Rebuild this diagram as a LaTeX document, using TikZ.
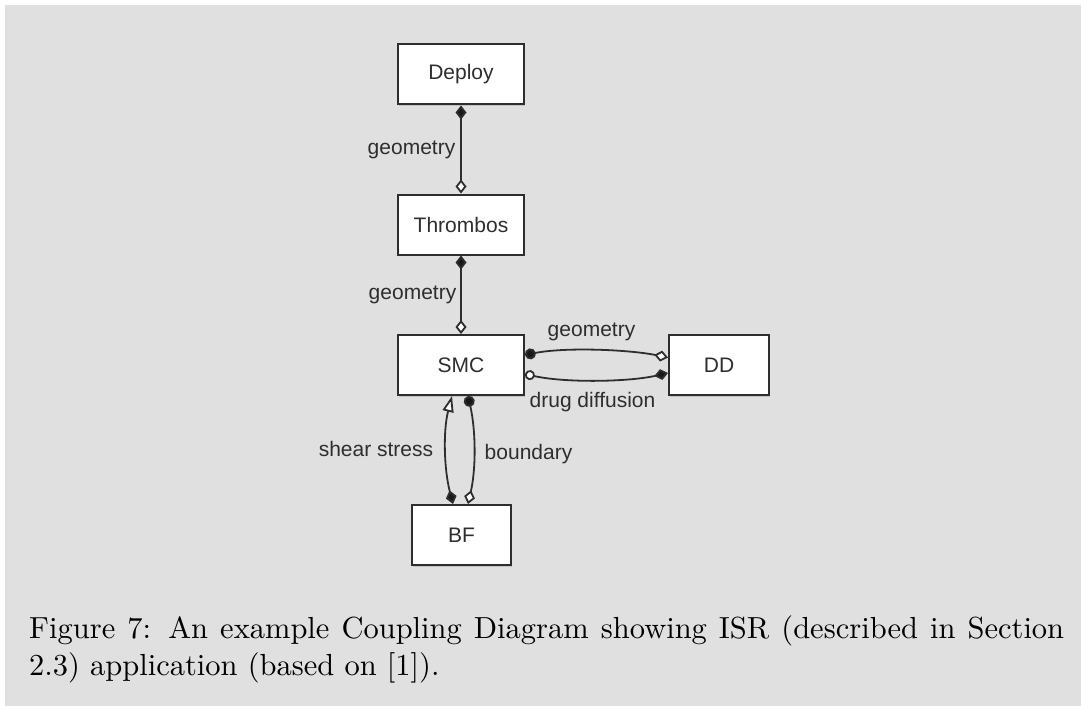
\documentclass[tikz,border=0pt]{standalone}
\usepackage{fontspec}
\newfontfamily\diagfont{Liberation Sans}
\newfontfamily\capfont{lmroman10-regular}[Extension=.otf]
\usetikzlibrary{arrows.meta,calc,shadows}
\definecolor{panel}{HTML}{E0E0E0}
\definecolor{ink}{HTML}{2E2E2E}
\tikzset{
  fdia/.tip={Diamond[length=14pt,width=11pt,fill=black!90]},
  odia/.tip={Diamond[length=14pt,width=11pt,fill=white]},
  fdot/.tip={Circle[length=11pt,fill=black!90]},
  odot/.tip={Circle[length=10pt,fill=white]},
  otri/.tip={Triangle[length=16pt,width=11pt,fill=white]},
}
\begin{document}
\begin{tikzpicture}[x=1pt,y=-1pt,
  box/.style={draw=ink, line width=2pt, fill=white, minimum height=60pt,
    inner sep=0pt, text=ink, font=\diagfont\fontsize{21}{25}\selectfont,
    drop shadow={shadow xshift=1.2pt, shadow yshift=-1.8pt, opacity=0.3}},
  lbl/.style={inner sep=0pt, anchor=base, text=ink,
    font=\diagfont\fontsize{21}{25}\selectfont},
  link/.style={draw=ink, line width=1.8pt},
  captext/.style={inner sep=0pt, anchor=base west, text=black,
    font=\capfont\fontsize{30.5}{36.6}\selectfont}]
  % page and grey panel
  \fill[white] (0,0) rectangle (1081,706);
  \fill[panel] (5,5) rectangle (1081,706);
  \useasboundingbox (0,0) rectangle (1081,706);

  % submodels
  \node[box, minimum width=126pt] (Deploy)   at (461,74.5)  {Deploy};
  \node[box, minimum width=126pt] (Thrombos) at (461,224.5) {Thrombos};
  \node[box, minimum width=126pt] (SMC)      at (461,365)   {SMC};
  \node[box, minimum width=100pt] (DD)       at (719,365)   {DD};
  \node[box, minimum width=99pt]  (BF)       at (461.5,535) {BF};

  % couplings
  \draw[link, {fdia}-{odia}] (Deploy) -- (Thrombos);
  \draw[link, {fdia}-{odia}] (Thrombos) -- (SMC);
  \draw[link, {fdot}-{odia}] ($(SMC.east)+(0,-10)$)
    .. controls +(40,-8) and +(-40,-8) .. ($(DD.west)+(0,-7.5)$);
  \draw[link, {odot}-{fdia}] ($(SMC.east)+(0,9)$)
    .. controls +(40,9) and +(-40,9) .. ($(DD.west)+(0,8)$);
  \draw[link, {fdia}-{otri}] ($(BF.north)+(-8.5,0)$)
    .. controls +(-9,-35) and +(-9,35) .. ($(SMC.south)+(-9,0)$);
  \draw[link, {fdot}-{odia}] ($(SMC.south)+(7,0)$)
    .. controls +(8,35) and +(8,-35) .. ($(BF.north)+(6.5,0)$);

  % coupling labels
  \node[lbl] (geo1) at (411.5,154) {geometry};
  \node[lbl] (geo2) at (412.5,299) {geometry};
  \node[lbl] (geo3) at (591.5,336) {geometry};
  \node[lbl] (drug) at (592.5,407) {drug diffusion};
  \node[lbl] (shear) at (376,456) {shear stress};
  \node[lbl] (bound) at (528.5,459) {boundary};

  % caption
  \node[captext] (cap1) at (29,638)
    {\makebox[1035pt][s]{Figure 7: An example Coupling Diagram showing ISR (described in Section}};
  \node[captext] (cap2) at (29,675) {2.3) application (based on [1]).};
\end{tikzpicture}
\end{document}
